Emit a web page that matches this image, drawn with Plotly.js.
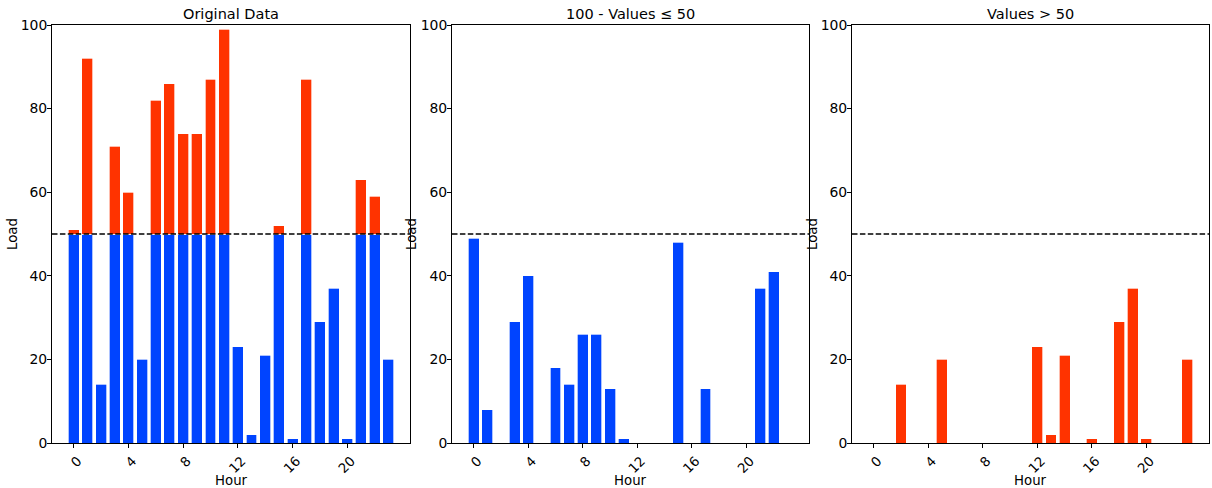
<!DOCTYPE html>
<html>
<head>
<meta charset="utf-8">
<script src="https://cdn.plot.ly/plotly-3.0.1.min.js"></script>
<style>html,body{margin:0;padding:0;background:#fff;}#chart{width:1212px;height:488px;}</style>
</head>
<body>
<div id="chart"></div>
<script>
// ---- data ----
const hours = [0,1,2,3,4,5,6,7,8,9,10,11,12,13,14,15,16,17,18,19,20,21,22,23];
const originalLoad = [51,92,14,71,60,20,82,86,74,74,87,99,23,2,21,52,1,87,29,37,1,63,59,20];
const threshold = 50;
// panel 1: stacked parts (up to threshold / above threshold)
const originalBelow = [50,50,14,50,50,20,50,50,50,50,50,50,23,2,21,50,1,50,29,37,1,50,50,20];
const originalAbove = [1,42,null,21,10,null,32,36,24,24,37,49,null,null,null,2,null,37,null,null,null,13,9,null];
// panel 2: 100 - values (for hours with load > 50)
const mirroredLow = [49,8,null,29,40,null,18,14,26,26,13,1,null,null,null,48,null,13,null,null,null,37,41,null];
// panel 3: values at hours with load <= 50
const lowValues = [null,null,14,null,null,20,null,null,null,null,null,null,23,2,21,null,1,null,29,37,1,null,null,20];
const panelTitles = ["Original Data", "100 - Values \u2264 50", "Values > 50"];
const xTicks = [0,4,8,12,16,20];
const yTicks = [0,20,40,60,80,100];

const BLUE = '#0044ff', RED = '#ff3300';
const FONT = 'DejaVu Sans, sans-serif';
const W = 1212;

function bar(y, color, xa, ya) {
  return {type:'bar', x:hours, y:y, width:0.8, xaxis:xa, yaxis:ya,
    marker:{color:color, line:{color:'rgba(255,255,255,0.85)', width:0.8}},
    hoverinfo:'x+y', showlegend:false};
}

const data = [
  bar(originalBelow, BLUE, 'x', 'y'),
  bar(originalAbove, RED, 'x', 'y'),
  bar(mirroredLow, BLUE, 'x2', 'y2'),
  bar(lowValues, RED, 'x3', 'y3')
];

const domains = [[52/W, 410/W], [452/W, 809/W], [852/W, 1209/W]];
const layout = {
  width:1212, height:488,
  margin:{l:0, r:0, t:25, b:45},
  paper_bgcolor:'#fff', plot_bgcolor:'#fff',
  barmode:'stack',
  font:{family:FONT, size:13.9, color:'#000'},
  showlegend:false,
  shapes:[], annotations:[]
};

const axIds = ['', '2', '3'];
axIds.forEach((id, i) => {
  const xa = 'xaxis' + id, ya = 'yaxis' + id;
  layout[xa] = {
    domain:domains[i], anchor:'y'+id, range:[-1.59, 24.59],
    tickmode:'array', tickvals:xTicks, ticktext:xTicks.map(String),
    tickangle:-45, ticks:'outside', ticklen:4, tickwidth:1, tickcolor:'#000',
    ticklabelshift:4,
    showline:true, linecolor:'#000', linewidth:1, mirror:true,
    showgrid:false, zeroline:false, fixedrange:true,
    tickfont:{family:FONT, size:13.3, color:'#000'}
  };
  layout[ya] = {
    domain:[0,1], anchor:'x'+id, range:[0,100],
    tickmode:'array', tickvals:yTicks, ticktext:yTicks.map(String),
    ticks:'outside', ticklen:4, tickwidth:1, tickcolor:'#000',
    ticklabelstandoff:-3,
    showline:true, linecolor:'#000', linewidth:1, mirror:true,
    showgrid:false, zeroline:false, fixedrange:true,
    tickfont:{family:FONT, size:13.9, color:'#000'}
  };
  // dashed threshold line
  layout.shapes.push({type:'line', xref:'x'+id+' domain', yref:'y'+id,
    x0:0, x1:1, y0:threshold, y1:threshold,
    line:{color:'#000', width:1.5, dash:'5.5px,2.4px'}});
  const cx = (domains[i][0] + domains[i][1]) / 2;
  // panel title
  layout.annotations.push({text:panelTitles[i], xref:'paper', yref:'paper',
    x:cx, y:1, yshift:11, xanchor:'center', yanchor:'middle', showarrow:false,
    font:{family:FONT, size:14.5, color:'#000'}});
  // x axis title
  layout.annotations.push({text:'Hour', xref:'paper', yref:'paper',
    x:cx, y:(443-480)/418, xanchor:'center', yanchor:'middle', showarrow:false,
    font:{family:FONT, size:13.3, color:'#000'}});
});
// y axis titles ("Load") at their positions
[12, 411, 812].forEach(px => {
  layout.annotations.push({text:'Load', xref:'paper', yref:'paper',
    x:px/W, y:0.5, xanchor:'center', yanchor:'middle', textangle:-90, showarrow:false,
    font:{family:FONT, size:13.3, color:'#000'}});
});

Plotly.newPlot('chart', data, layout, {displayModeBar:false, staticPlot:true});
</script>
</body>
</html>
